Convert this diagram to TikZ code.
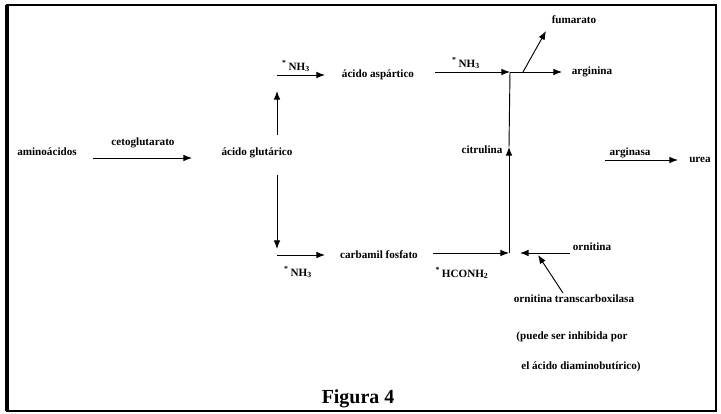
\documentclass[tikz,border=0pt]{standalone}
\usepackage{fontspec}
\setmainfont{Liberation Serif}
\usetikzlibrary{arrows.meta}

\tikzset{
  txt/.style={font=\bfseries\fontsize{9.5}{11}\selectfont, inner sep=1pt},
  flecha/.style={-{Latex[length=2.6mm,width=2mm]}, line width=0.8pt}
}

\begin{document}
\begin{tikzpicture}[x=0.03cm,y=-0.03cm]
\useasboundingbox (0,0) rectangle (721,413);
\draw[line width=1pt] (7,5) rectangle (716,411);
\draw[line width=2.6pt] (7,5) -- (7,411);
% primera fila
\node[txt] (amino) at (47,152) {aminoácidos};
\node[txt] (ceto) at (143,143) {cetoglutarato};
\coordinate (a1) at (93,158);
\coordinate (a2) at (192,158);
\draw[flecha] (a1) -- (a2);
\node[txt] (glut) at (257,153) {ácido glutárico};
% rama de arriba
\coordinate (b1) at (277,135);
\coordinate (b2) at (277,91);
\draw[flecha] (b1) -- (b2);
\coordinate (b3) at (277,75);
\coordinate (b4) at (325,75);
\draw[flecha] (b3) -- (b4);
\node[txt] (nhA) at (296,66) {\textsuperscript{*}\,NH\textsubscript{3}};
\node[txt] (asp) at (378,75) {ácido aspártico};
\coordinate (c1) at (435,72);
\coordinate (J) at (510,72);
\draw[flecha] (c1) -- (J);
\node[txt] (nhB) at (466,63) {\textsuperscript{*}\,NH\textsubscript{3}};
\coordinate (c2) at (562,72);
\draw[flecha] (J) -- (c2);
\node[txt] (argi) at (592,72) {arginina};
\coordinate (f1) at (523,72);
\coordinate (f2) at (546,31);
\draw[flecha] (f1) -- (f2);
\node[txt] (fuma) at (574,20) {fumarato};
% citrulina
\node[txt] (citr) at (482,150) {citrulina};
\coordinate (K) at (509,253);
\coordinate (M) at (509,147);
\draw[flecha] (K) -- (M);
\draw[line width=0.8pt] (M) -- (J);
% rama de abajo
\coordinate (d1) at (277,175);
\coordinate (d2) at (277,249);
\draw[flecha] (d1) -- (d2);
\coordinate (d3) at (277,255);
\coordinate (d4) at (325,255);
\draw[flecha] (d3) -- (d4);
\node[txt] (nhC) at (298,272) {\textsuperscript{*}\,NH\textsubscript{3}};
\node[txt] (carb) at (379,255) {carbamil fosfato};
\coordinate (e1) at (433,253);
\draw[flecha] (e1) -- (K);
\node[txt] (hco) at (462,273) {\textsuperscript{*}\,HCONH\textsubscript{2}};
% ornitina
\node[txt] (orni) at (592,247) {ornitina};
\coordinate (g1) at (570,253);
\coordinate (g2) at (520,253);
\draw[flecha] (g1) -- (g2);
\node[txt] (trans) at (574,299) {ornitina transcarboxilasa};
\coordinate (h1) at (563,293);
\coordinate (h2) at (538,255);
\draw[flecha] (h1) -- (h2);
\node[txt] (puede) at (572,337) {(puede ser inhibida por};
\node[txt] (diam) at (581,367) {el ácido diaminobutírico)};
% arginasa
\node[txt] (arga) at (630,153) {arginasa};
\coordinate (u1) at (605,160);
\coordinate (u2) at (678,160);
\draw[flecha] (u1) -- (u2);
\node[txt] (urea) at (700,160) {urea};
\node[font=\bfseries\fontsize{17}{19}\selectfont] (fig) at (358,399) {Figura 4};
\end{tikzpicture}
\end{document}
